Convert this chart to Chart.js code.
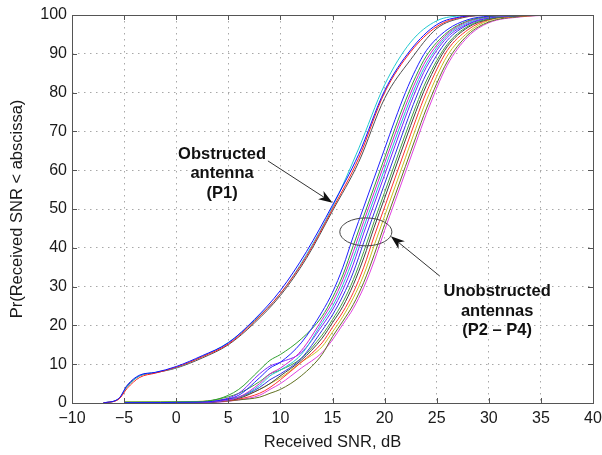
<!DOCTYPE html>
<html>
<head>
<meta charset="utf-8">
<script src="https://cdn.jsdelivr.net/npm/chart.js@4.4.1/dist/chart.umd.min.js"></script>
<style>
  html, body { margin: 0; padding: 0; background: #fff; }
  #wrap { width: 602px; height: 455px; }
</style>
</head>
<body>
<div id="wrap"><canvas id="snrChart" width="602" height="455"></canvas></div>
<script>
// SNR positions (dB) where the curves were read
const snrObstructed = [-7, -5.5, -4.7, -3.5, -2, 0, 2.5, 5, 7.5, 10, 12.5, 15, 17.5, 20, 22.5, 25, 27.5, 30];
const snrUnobstructed = [-5, 2, 4, 6, 8, 9, 10, 12, 14, 15, 16, 17, 18, 19, 20, 21, 22, 23, 24, 26, 28, 30, 33, 36];

// Obstructed antenna (P1), Pr in %
const p1Blue = [0, 1.2, 4.6, 7.2, 7.9, 9.4, 12.2, 15.5, 21.5, 29, 39, 51, 64, 80.5, 91, 97.5, 99.6, 100];
const p1Red  = [0, 1.0, 3.8, 6.6, 7.7, 9.2, 11.9, 15.2, 21.0, 28.2, 37.8, 50, 63, 80, 90.5, 97, 99.5, 100];
const p1Cyan = [0, 1.1, 4.2, 7.0, 7.9, 9.1, 12.0, 15.6, 21.2, 28.2, 38.2, 50.5, 65.5, 82, 93, 98.5, 99.8, 100];
const p1Gray = [0, 1.1, 4.4, 7.0, 7.8, 9.0, 11.6, 15.0, 20.6, 27.7, 37.3, 49.5, 62, 78.5, 88.5, 96.5, 99.3, 100];

// Unobstructed antennas (P2 - P4), Pr in %
const u1  = [0.1, 0.2, 0.6, 2, 6.5, 9, 10.5, 15.5, 23.5, 28.5, 35, 43, 50.5, 58, 65.5, 73, 80, 86, 90.8, 96.2, 98.8, 99.7, 99.95, 100];
const u2  = [0.2, 0.3, 1, 3.5, 8.5, 11, 12.5, 16.5, 22.3, 27.1, 33, 40.6, 48.2, 55.7, 63.2, 70.8, 77.9, 84.2, 89.4, 95.5, 98.5, 99.6, 99.95, 100];
const u3  = [0, 0.1, 0.5, 1.5, 5, 7.5, 9, 13.5, 21.5, 26, 31.8, 39, 46.8, 54.3, 61.8, 69.3, 76.5, 83, 88.4, 95.1, 98.3, 99.55, 99.9, 100];
const u4  = [0.1, 0.2, 0.5, 1.5, 4.5, 7, 8.5, 12.5, 20.7, 24.9, 30.5, 37.4, 45.3, 52.8, 60.3, 67.8, 75.1, 81.8, 87.4, 94.7, 98, 99.5, 99.9, 100];
const u5  = [0, 0.1, 0.6, 2.5, 7.5, 9.5, 10.5, 13, 19.9, 24, 29.2, 35.8, 43.8, 51.3, 58.8, 66.3, 73.7, 80.6, 86.5, 94.2, 97.7, 99.35, 99.9, 100];
const u6  = [0, 0.1, 0.4, 1.5, 4, 6, 7.5, 11.5, 18.7, 22.7, 27.6, 33.7, 41.4, 49, 56.5, 64, 71.5, 78.6, 84.8, 93.4, 97.5, 99.2, 99.85, 100];
const u7  = [0.2, 0.3, 1, 2.5, 5.5, 7.5, 8.5, 11.5, 17.5, 21.5, 26, 31.8, 39, 46.8, 54.3, 61.8, 69.3, 76.5, 83, 92.4, 97.1, 99, 99.8, 100];
const u8  = [0, 0.1, 0.5, 1.2, 3.5, 5, 7, 11, 16.7, 20.7, 24.9, 30.5, 37.4, 45.3, 52.8, 60.3, 67.8, 75.1, 81.8, 91.8, 96.8, 98.9, 99.8, 100];
const u9  = [0, 0.1, 0.4, 1, 2.5, 4, 6, 10.5, 15.5, 19.5, 23.5, 28.5, 35, 43, 50.5, 58, 65.5, 73, 80, 90.8, 96.2, 98.8, 99.7, 100];
const u10 = [0.3, 0.4, 0.8, 1.5, 3.5, 5, 6.5, 10.5, 14.5, 18.3, 22.3, 27.1, 33, 40.6, 48.2, 55.7, 63.2, 70.8, 77.9, 89.4, 95.5, 98.6, 99.7, 100];
const u11 = [0, 0, 0.3, 0.8, 1.5, 2.5, 3.5, 7, 12.5, 17.1, 21.1, 25.4, 31.1, 38.2, 46, 53.5, 61, 68.5, 75.8, 87.9, 94.9, 98.2, 99.6, 100];
const u12 = [0, 0, 0.2, 0.8, 2, 3.5, 5, 9, 13, 16.3, 20.3, 24.4, 29.8, 36.6, 44.5, 52, 59.5, 67, 74.4, 87, 94.4, 98, 99.5, 100];

const xTicks = [-10, -5, 0, 5, 10, 15, 20, 25, 30, 35, 40];
const yTicks = [0, 10, 20, 30, 40, 50, 60, 70, 80, 90, 100];

const fontFamily = '"Liberation Sans", Arial, Helvetica, sans-serif';

function curve(xs, ys, color) {
    return {
        data: xs.map((x, i) => ({ x: x, y: ys[i] })),
        borderColor: color,
        borderWidth: 1,
        pointRadius: 0,
        fill: false,
        cubicInterpolationMode: 'monotone'
    };
}

const datasets = [
    curve(snrObstructed, p1Blue, '#1010ff'),
    curve(snrObstructed, p1Red, '#ff2020'),
    curve(snrObstructed, p1Cyan, '#20c8d0'),
    curve(snrObstructed, p1Gray, '#505050'),
    curve(snrUnobstructed, u1, '#2020ff'),
    curve(snrUnobstructed, u2, '#30a030'),
    curve(snrUnobstructed, u3, '#d020d0'),
    curve(snrUnobstructed, u4, '#20c0d0'),
    curve(snrUnobstructed, u5, '#7a20ff'),
    curve(snrUnobstructed, u6, '#3030e0'),
    curve(snrUnobstructed, u7, '#40a040'),
    curve(snrUnobstructed, u8, '#404040'),
    curve(snrUnobstructed, u9, '#ff3030'),
    curve(snrUnobstructed, u10, '#c8c020'),
    curve(snrUnobstructed, u11, '#607020'),
    curve(snrUnobstructed, u12, '#e040e0')
];

function drawArrow(ctx, x0, y0, x1, y1) {
    const ang = Math.atan2(y1 - y0, x1 - x0);
    const len = 14, half = 5, notch = 4;
    ctx.beginPath();
    ctx.moveTo(x0, y0);
    ctx.lineTo(x1 - Math.cos(ang) * (len - notch), y1 - Math.sin(ang) * (len - notch));
    ctx.stroke();
    ctx.save();
    ctx.translate(x1, y1);
    ctx.rotate(ang);
    ctx.beginPath();
    ctx.moveTo(0, 0);
    ctx.lineTo(-len, -half);
    ctx.lineTo(-len + notch, 0);
    ctx.lineTo(-len, half);
    ctx.closePath();
    ctx.fill();
    ctx.restore();
}

// Axes box, inward ticks and the annotations
const framePlugin = {
    id: 'frame',
    afterDraw(chart) {
        const { ctx, chartArea: a, scales: { x, y } } = chart;
        ctx.save();
        ctx.strokeStyle = '#555';
        ctx.lineWidth = 1;
        ctx.strokeRect(a.left + 0.5, a.top + 0.5, a.right - a.left, a.bottom - a.top);
        ctx.beginPath();
        xTicks.forEach(v => {
            const px = Math.round(x.getPixelForValue(v)) + 0.5;
            ctx.moveTo(px, a.bottom); ctx.lineTo(px, a.bottom - 5);
            ctx.moveTo(px, a.top); ctx.lineTo(px, a.top + 5);
        });
        yTicks.forEach(v => {
            const py = Math.round(y.getPixelForValue(v)) + 0.5;
            ctx.moveTo(a.left, py); ctx.lineTo(a.left + 5, py);
            ctx.moveTo(a.right, py); ctx.lineTo(a.right - 5, py);
        });
        ctx.stroke();

        // ellipse round the unobstructed curves
        const cx = x.getPixelForValue(18.2), cy = y.getPixelForValue(44.1);
        const rx = x.getPixelForValue(20.7) - cx, ry = cy - y.getPixelForValue(47.7);
        ctx.strokeStyle = '#444';
        ctx.beginPath();
        ctx.ellipse(cx, cy, rx, ry, 0, 0, Math.PI * 2);
        ctx.stroke();

        // arrows
        ctx.strokeStyle = '#333';
        ctx.fillStyle = '#111';
        drawArrow(ctx, x.getPixelForValue(8.8), y.getPixelForValue(62.4), x.getPixelForValue(15.0), y.getPixelForValue(51.6));
        drawArrow(ctx, x.getPixelForValue(25.3), y.getPixelForValue(32.7), x.getPixelForValue(20.6), y.getPixelForValue(43.0));

        // labels
        ctx.font = 'bold 16.5px ' + fontFamily;
        ctx.fillStyle = '#111';
        ctx.textAlign = 'center';
        ctx.textBaseline = 'alphabetic';
        const l1x = x.getPixelForValue(4.4), l1y = y.getPixelForValue(63.0);
        ['Obstructed', 'antenna', '(P1)'].forEach((t, i) => ctx.fillText(t, l1x, l1y + i * 19.5));
        const l2x = x.getPixelForValue(30.8), l2y = y.getPixelForValue(27.5);
        ['Unobstructed', 'antennas', '(P2 \u2013 P4)'].forEach((t, i) => ctx.fillText(t, l2x, l2y + i * 19.5));
        ctx.restore();
    }
};

const ctx = document.getElementById('snrChart');
new Chart(ctx.getContext('2d'), {
    type: 'line',
    data: { datasets: datasets },
    options: {
        responsive: false,
        animation: false,
        devicePixelRatio: 1,
        layout: { padding: { top: 15, right: 9, left: 0, bottom: 0 } },
        plugins: {
            legend: { display: false },
            tooltip: { enabled: false }
        },
        scales: {
            x: {
                type: 'linear',
                min: -10,
                max: 40,
                afterFit: (scale) => {
                    scale.height = 52;
                    scale.paddingLeft = 0;
                    scale.paddingRight = 0;
                },
                afterBuildTicks: (scale) => { scale.ticks = xTicks.map(v => ({ value: v })); },
                ticks: {
                    padding: 5.5,
                    color: '#1a1a1a',
                    font: { family: fontFamily, size: 16 },
                    maxRotation: 0,
                    callback: (v) => String(v).replace('-', '\u2212')
                },
                grid: { color: '#a8a8a8', lineWidth: 1, drawTicks: false },
                border: { display: false, dash: [1.5, 4.5] },
                title: {
                    display: true,
                    text: 'Received SNR, dB',
                    color: '#1a1a1a',
                    font: { family: fontFamily, size: 16.5 },
                    padding: { top: 0, bottom: 3 }
                }
            },
            y: {
                type: 'linear',
                min: 0,
                max: 100,
                afterFit: (scale) => {
                    scale.width = 72;
                    scale.paddingTop = 0;
                    scale.paddingBottom = 0;
                },
                afterBuildTicks: (scale) => { scale.ticks = yTicks.map(v => ({ value: v })); },
                ticks: {
                    padding: 5,
                    color: '#1a1a1a',
                    font: { family: fontFamily, size: 16 }
                },
                grid: { color: '#a8a8a8', lineWidth: 1, drawTicks: false },
                border: { display: false, dash: [1.5, 4.5] },
                title: {
                    display: true,
                    text: 'Pr(Received SNR < abscissa)',
                    color: '#1a1a1a',
                    font: { family: fontFamily, size: 16.5 },
                    padding: { top: 8, bottom: 0 }
                }
            }
        }
    },
    plugins: [framePlugin]
});
</script>
</body>
</html>
